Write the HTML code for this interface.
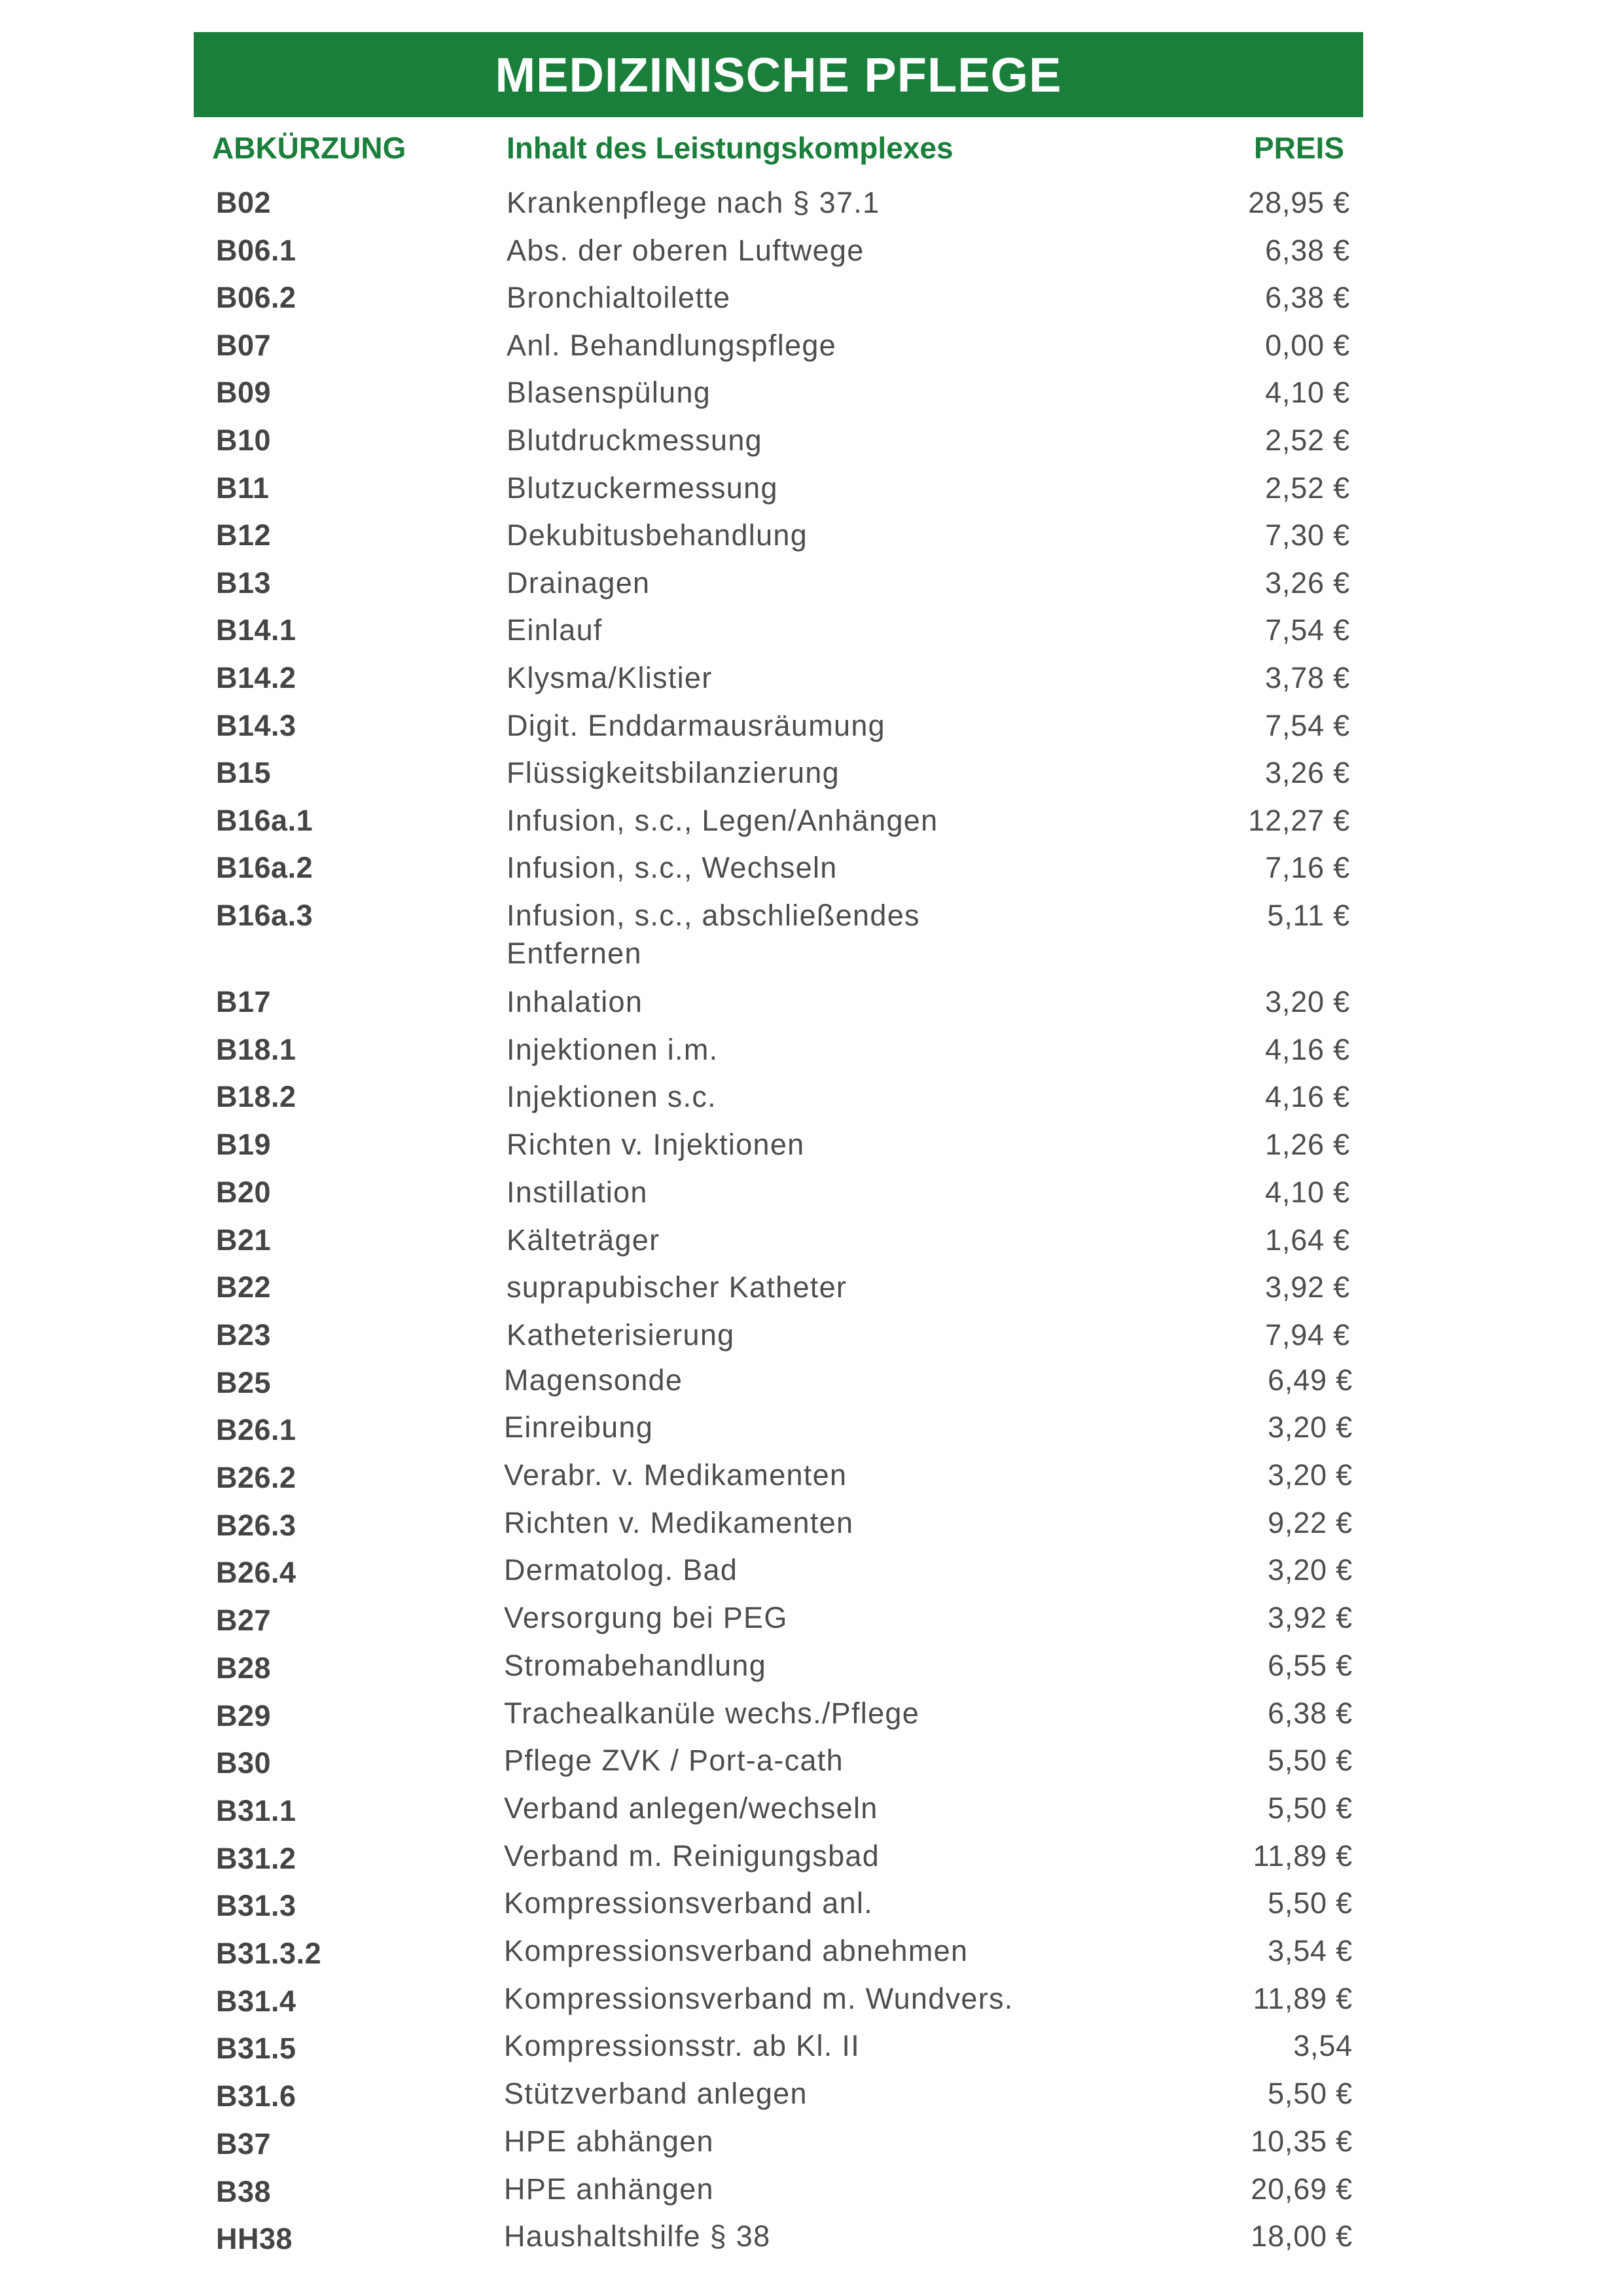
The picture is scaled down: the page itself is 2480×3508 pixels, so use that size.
<!DOCTYPE html>
<html><head><meta charset="utf-8"><style>
html,body{margin:0;padding:0;background:#fff;}
body{width:2480px;height:3508px;position:relative;overflow:hidden;font-family:"Liberation Sans",sans-serif;}
.banner{position:absolute;left:296px;top:49px;width:1787px;height:130px;background:#1a7f3b;}
.title{position:absolute;left:296px;width:1787px;top:78px;text-align:center;color:#fff;font-weight:bold;font-size:74px;line-height:74px;letter-spacing:1px;}
.h{position:absolute;top:203px;color:#1a7f3b;font-weight:bold;font-size:46px;line-height:47px;}
.c,.d,.p{position:absolute;font-size:45px;line-height:45px;color:#4d4d4d;white-space:nowrap;}
.c{font-weight:bold;color:#444;letter-spacing:0.5px;}
.d{letter-spacing:1.3px;}
.p{text-align:right;width:400px;letter-spacing:0.8px;}
</style></head><body>
<div class="banner"></div>
<div class="title">MEDIZINISCHE PFLEGE</div>
<div class="h" style="left:324px">ABKÜRZUNG</div>
<div class="h" style="left:774px">Inhalt des Leistungskomplexes</div>
<div class="h" style="left:1654px;width:400px;text-align:right">PREIS</div>
<div id="rows"></div>
<script>
const codes=["B02","B06.1","B06.2","B07","B09","B10","B11","B12","B13","B14.1","B14.2","B14.3","B15","B16a.1","B16a.2","B16a.3","B17","B18.1","B18.2","B19","B20","B21","B22","B23","B25","B26.1","B26.2","B26.3","B26.4","B27","B28","B29","B30","B31.1","B31.2","B31.3","B31.3.2","B31.4","B31.5","B31.6","B37","B38","HH38"];
const descs=["Krankenpflege nach § 37.1","Abs. der oberen Luftwege","Bronchialtoilette","Anl. Behandlungspflege","Blasenspülung","Blutdruckmessung","Blutzuckermessung","Dekubitusbehandlung","Drainagen","Einlauf","Klysma/Klistier","Digit. Enddarmausräumung","Flüssigkeitsbilanzierung","Infusion, s.c., Legen/Anhängen","Infusion, s.c., Wechseln","Infusion, s.c., abschließendes","Inhalation","Injektionen i.m.","Injektionen s.c.","Richten v. Injektionen","Instillation","Kälteträger","suprapubischer Katheter","Katheterisierung","Magensonde","Einreibung","Verabr. v. Medikamenten","Richten v. Medikamenten","Dermatolog. Bad","Versorgung bei PEG","Stromabehandlung","Trachealkanüle wechs./Pflege","Pflege ZVK / Port-a-cath","Verband anlegen/wechseln","Verband m. Reinigungsbad","Kompressionsverband anl.","Kompressionsverband abnehmen","Kompressionsverband m. Wundvers.","Kompressionsstr. ab Kl. II","Stützverband anlegen","HPE abhängen","HPE anhängen","Haushaltshilfe § 38"];
const prices=["28,95 €","6,38 €","6,38 €","0,00 €","4,10 €","2,52 €","2,52 €","7,30 €","3,26 €","7,54 €","3,78 €","7,54 €","3,26 €","12,27 €","7,16 €","5,11 €","3,20 €","4,16 €","4,16 €","1,26 €","4,10 €","1,64 €","3,92 €","7,94 €","6,49 €","3,20 €","3,20 €","9,22 €","3,20 €","3,92 €","6,55 €","6,38 €","5,50 €","5,50 €","11,89 €","5,50 €","3,54 €","11,89 €","3,54","5,50 €","10,35 €","20,69 €","18,00 €"];
const root=document.getElementById('rows');
function mk(cls,txt,left,top){const e=document.createElement('div');e.className=cls;e.textContent=txt;e.style.left=left+'px';e.style.top=top+'px';root.appendChild(e);return e;}
for(let i=0;i<codes.length;i++){
  const base=i<16?325+i*72.6:1546+(i-16)*72.7;
  const late=i>=24;
  const t=base-38;
  const c=mk('c',codes[i],330,t);
  
  
  const d=mk('d',descs[i],late?770:774,t-(late?4:0));
  
  
  const p=mk('p',prices[i],(late?2067:2063)-400,t-(late?4:0));
  
  
  if(i===15){
    const e2=mk('d','Entfernen',774,1472-38);
    
    
  }
}
</script>
</body></html>
